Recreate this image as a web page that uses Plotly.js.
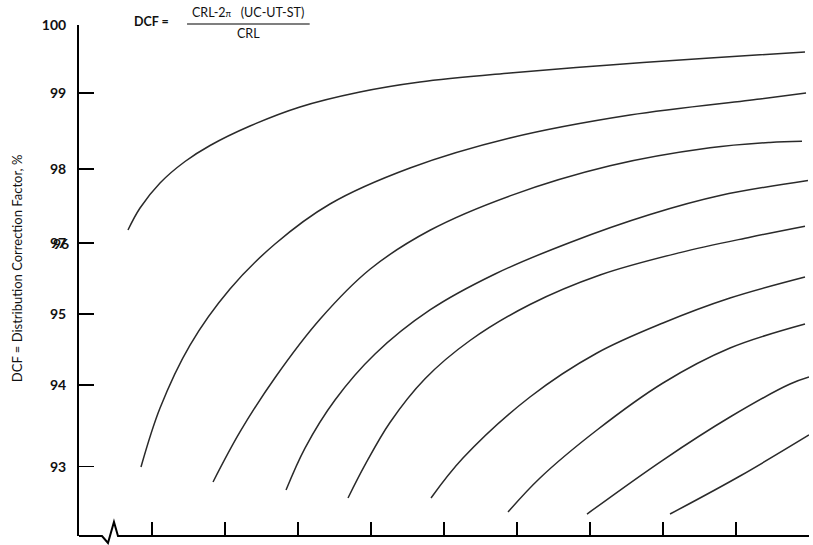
<!DOCTYPE html>
<html>
<head>
<meta charset="utf-8">
<script src="https://cdn.plot.ly/plotly-3.0.1.min.js"></script>
<style>html,body{margin:0;padding:0;background:#fff;}#chart{width:813px;height:545px;}</style>
</head>
<body>
<div id="chart"></div>
<script>
// Y scale positions (graph units) of the printed DCF ticks, and their labels
const yTickPos  = [7.0, 6.07, 5.03, 4.01, 3.04, 2.07, 0.95];
const yTickText = ['100', '99', '98', '97', '95', '94', '93'];
const yOverlayLabel = '96';   // printed on top of "97" in the original
const xTickPos = [1, 2, 3, 4, 5, 6, 7, 8, 9, 10];

// Curves (x in graph units, y in graph units of the DCF scale)
const c1x = [0.671, 0.836, 1.110, 1.452, 1.795, 2.342, 3.027, 3.849, 4.671, 5.904, 7.274, 8.644, 9.945];
const c1y = [4.192, 4.493, 4.836, 5.130, 5.349, 5.616, 5.877, 6.082, 6.219, 6.342, 6.452, 6.548, 6.630];

const c2x = [0.849, 1.110, 1.521, 2.068, 2.685, 3.438, 4.534, 5.904, 7.548, 9.329, 9.959];
const c2y = [0.945, 1.753, 2.616, 3.384, 4.000, 4.548, 5.041, 5.452, 5.767, 5.986, 6.068];

const c3x = [1.836, 2.205, 2.685, 3.301, 3.986, 4.808, 5.904, 7.274, 8.644, 9.466, 9.904];
const c3y = [0.740, 1.425, 2.168, 2.969, 3.654, 4.188, 4.659, 5.071, 5.317, 5.391, 5.408];

const c4x = [2.836, 3.096, 3.507, 4.055, 4.808, 5.699, 6.726, 7.822, 8.781, 9.986];
const c4y = [0.630, 1.205, 1.863, 2.493, 3.096, 3.589, 4.021, 4.404, 4.664, 4.870];

const c5x = [3.685, 3.918, 4.260, 4.740, 5.356, 6.178, 7.137, 8.233, 9.192, 9.945];
const c5y = [0.521, 0.973, 1.555, 2.154, 2.678, 3.171, 3.575, 3.882, 4.093, 4.244];

const c6x = [4.822, 5.260, 6.178, 7.096, 8.000, 8.918, 9.945];
const c6y = [0.521, 1.068, 1.904, 2.507, 2.918, 3.260, 3.548];

const c7x = [5.877, 6.315, 7.096, 8.000, 8.918, 9.945];
const c7y = [0.329, 0.795, 1.452, 2.096, 2.575, 2.904];

const c8x = [6.959, 8.000, 8.918, 9.740, 10.0];
const c8y = [0.301, 1.041, 1.630, 2.082, 2.178];

const c9x = [8.096, 9.055, 10.0];
const c9y = [0.301, 0.822, 1.384];

const curves = [[c1x,c1y],[c2x,c2y],[c3x,c3y],[c4x,c4y],[c5x,c5y],[c6x,c6y],[c7x,c7y],[c8x,c8y],[c9x,c9y]];

const traces = curves.map(([x, y]) => ({
  x: x, y: y, type: 'scatter', mode: 'lines',
  line: {color: '#2a2a2a', width: 1.5, shape: 'spline', smoothing: 1.0},
  hoverinfo: 'skip', showlegend: false
}));

const FONT = 'Lato, "Open Sans", "DejaVu Sans", sans-serif';

const layout = {
  width: 813, height: 545,
  margin: {l: 79, r: 4, t: 25, b: 9, pad: 0},
  paper_bgcolor: '#fff', plot_bgcolor: '#fff',
  showlegend: false,
  font: {family: FONT, color: '#111'},
  xaxis: {
    range: [0, 10], showgrid: false, zeroline: false, showline: false,
    tickmode: 'array', tickvals: xTickPos, ticks: 'inside', ticklen: 14,
    tickwidth: 1.6, tickcolor: '#000', showticklabels: false, fixedrange: true
  },
  yaxis: {
    range: [0, 7], showgrid: false, zeroline: false,
    showline: true, linecolor: '#000', linewidth: 2,
    tickmode: 'array', tickvals: yTickPos, ticktext: yTickText,
    ticks: 'inside', ticklen: 15, tickwidth: 1.6, tickcolor: '#000',
    tickfont: {family: FONT, size: 14, color: '#111', weight: 'bold'},
    ticklabelstandoff: 8, fixedrange: true
  },
  shapes: [
    // x baseline with axis-break zigzag
    {type: 'path', xref: 'paper', yref: 'paper',
     path: 'M 0,0 L 0.0315,0 L 0.0397,-0.0137 L 0.0479,0.0274 L 0.0534,0 L 1,0',
     line: {color: '#000', width: 2}},
    // fraction bar of the formula
    {type: 'line', xref: 'paper', yref: 'paper', x0: 0.148, x1: 0.316, y0: 1.002, y1: 1.002,
     line: {color: '#000', width: 1.2}}
  ],
  annotations: [
    {xref: 'paper', yref: 'y', x: 0, y: yTickPos[3], text: '<b>' + yOverlayLabel + '</b>',
     showarrow: false, xanchor: 'right', yanchor: 'middle', xshift: -8,
     font: {family: FONT, size: 14, color: '#111'}},
    {xref: 'paper', yref: 'paper', x: -0.085, y: 0.524, textangle: -90,
     xanchor: 'center', yanchor: 'middle',
     text: 'DCF = Distribution Correction Factor, %', showarrow: false,
     font: {family: FONT, size: 13, color: '#111'}},
    {xref: 'paper', yref: 'paper', x: 0.073, y: 1.006, xanchor: 'left', yanchor: 'middle',
     text: '<b>DCF =</b>', showarrow: false, font: {family: FONT, size: 12.5, color: '#111'}},
    {xref: 'paper', yref: 'paper', x: 0.232, y: 1.024, xanchor: 'center', yanchor: 'middle',
     text: 'CRL-2<span style="font-size:9px">π</span>   (UC-UT-ST)', showarrow: false,
     font: {family: FONT, size: 12.5, color: '#111'}},
    {xref: 'paper', yref: 'paper', x: 0.232, y: 0.983, xanchor: 'center', yanchor: 'middle',
     text: 'CRL', showarrow: false, font: {family: FONT, size: 12.5, color: '#111'}}
  ]
};

Plotly.newPlot('chart', traces, layout, {displayModeBar: false, staticPlot: true});
</script>
</body>
</html>
